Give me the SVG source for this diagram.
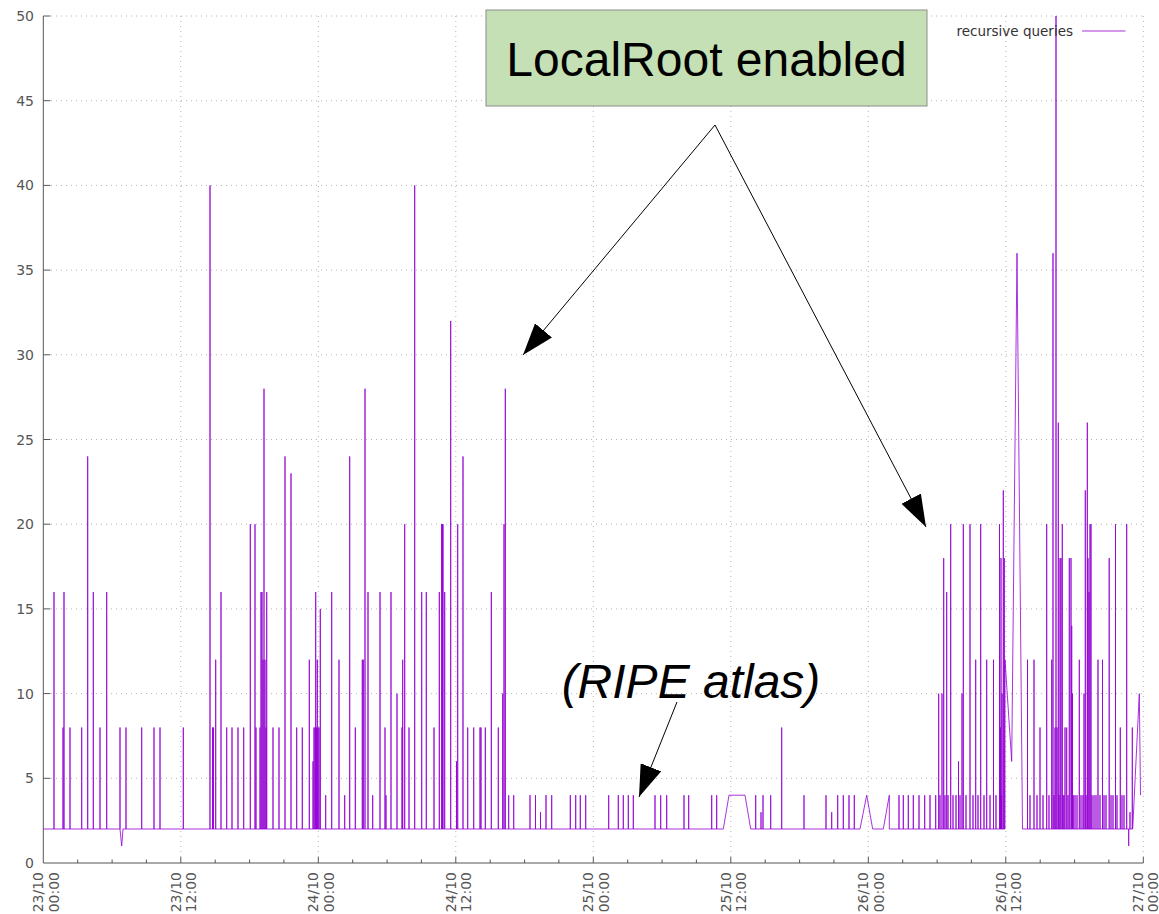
<svg xmlns="http://www.w3.org/2000/svg" width="1159" height="914" viewBox="0 0 1159 914">
  <style>
    .grid { stroke: #b4b4b4; stroke-width: 1; stroke-dasharray: 1 4; fill: none; }
    .axis { stroke: #555555; stroke-width: 1; fill: none; }
    .tick { font-family: "DejaVu Sans", sans-serif; font-size: 14px; fill: #555555; }
    .series { stroke: #9400d3; stroke-opacity: 0.8; stroke-width: 1; fill: none; stroke-linejoin: miter; }
    .legend { font-family: "DejaVu Sans", sans-serif; font-size: 13.5px; fill: #333333; }
    .note { font-family: "Liberation Sans", Arial, sans-serif; font-size: 48px; fill: #000000; }
    .connector { stroke: #000000; stroke-width: 1; fill: none; }
  </style>
  <defs>
    <marker id="head" markerUnits="userSpaceOnUse" markerWidth="32" markerHeight="22" refX="32" refY="11" orient="auto">
      <path d="M0,0 L32,11 L0,22 Z" fill="#000000"/>
    </marker>
  </defs>

  <rect width="1159" height="914" fill="#ffffff"/>

  <!-- dotted grid -->
  <g class="grid">
    <path d="M51,16 H1143.3 M51,100.7 H1143.3 M51,185.4 H1143.3 M51,270.1 H1143.3 M51,354.8 H1143.3 M51,439.5 H1143.3 M51,524.2 H1143.3 M51,608.9 H1143.3 M51,693.6 H1143.3 M51,778.3 H1143.3"/>
    <path d="M180.8,16 V857 M318.3,16 V857 M455.8,16 V857 M593.3,16 V857 M730.8,16 V857 M868.3,16 V857 M1005.8,16 V857 M1143.3,16 V857"/>
  </g>

  <!-- axes and ticks -->
  <g class="axis">
    <path d="M43.3,16 V863 H1143.3"/>
    <path d="M43.3,16 h7 M43.3,100.7 h7 M43.3,185.4 h7 M43.3,270.1 h7 M43.3,354.8 h7 M43.3,439.5 h7 M43.3,524.2 h7 M43.3,608.9 h7 M43.3,693.6 h7 M43.3,778.3 h7"/>
    <path d="M180.8,863 v-6 M318.3,863 v-6 M455.8,863 v-6 M593.3,863 v-6 M730.8,863 v-6 M868.3,863 v-6 M1005.8,863 v-6 M1143.3,863 v-6"/>
    <path d="M77.7,863 v-3.5 M112.1,863 v-3.5 M146.4,863 v-3.5 M215.2,863 v-3.5 M249.6,863 v-3.5 M283.9,863 v-3.5 M352.7,863 v-3.5 M387.1,863 v-3.5 M421.4,863 v-3.5 M490.2,863 v-3.5 M524.6,863 v-3.5 M558.9,863 v-3.5 M627.7,863 v-3.5 M662.1,863 v-3.5 M696.4,863 v-3.5 M765.2,863 v-3.5 M799.6,863 v-3.5 M833.9,863 v-3.5 M902.7,863 v-3.5 M937.1,863 v-3.5 M971.4,863 v-3.5 M1040.2,863 v-3.5 M1074.6,863 v-3.5 M1108.9,863 v-3.5"/>
  </g>

  <!-- y tick labels -->
  <g class="tick" text-anchor="end">
    <text x="34" y="21">50</text>
    <text x="34" y="105.7">45</text>
    <text x="34" y="190.4">40</text>
    <text x="34" y="275.1">35</text>
    <text x="34" y="359.8">30</text>
    <text x="34" y="444.5">25</text>
    <text x="34" y="529.2">20</text>
    <text x="34" y="613.9">15</text>
    <text x="34" y="698.6">10</text>
    <text x="34" y="783.3">5</text>
    <text x="34" y="868">0</text>
  </g>

  <!-- x tick labels (date / time) -->
  <g class="tick" text-anchor="end">
    <g transform="translate(43.3,872) rotate(-90)"><text x="0" y="0">23/10</text><text x="0" y="15.3">00:00</text></g>
    <g transform="translate(180.8,872) rotate(-90)"><text x="0" y="0">23/10</text><text x="0" y="15.3">12:00</text></g>
    <g transform="translate(318.3,872) rotate(-90)"><text x="0" y="0">24/10</text><text x="0" y="15.3">00:00</text></g>
    <g transform="translate(455.8,872) rotate(-90)"><text x="0" y="0">24/10</text><text x="0" y="15.3">12:00</text></g>
    <g transform="translate(593.3,872) rotate(-90)"><text x="0" y="0">25/10</text><text x="0" y="15.3">00:00</text></g>
    <g transform="translate(730.8,872) rotate(-90)"><text x="0" y="0">25/10</text><text x="0" y="15.3">12:00</text></g>
    <g transform="translate(868.3,872) rotate(-90)"><text x="0" y="0">26/10</text><text x="0" y="15.3">00:00</text></g>
    <g transform="translate(1005.8,872) rotate(-90)"><text x="0" y="0">26/10</text><text x="0" y="15.3">12:00</text></g>
    <g transform="translate(1142.8,872) rotate(-90)"><text x="0" y="0">27/10</text><text x="0" y="15.3">00:00</text></g>
  </g>

  <!-- recursive queries series -->
  <path class="series" d="M43.3,829
    H54 V592 V829 H63 V727.5 V829 H64 V592 V829 H70 V727.5 V829 H81.7 V727.5 V829
    H87.7 V456.4 V829 H93.3 V592 V829 H100 V727.5 V829 H106.7 V592 V829 H120 V727.5 V829
    L121.7,846 L123,829
    H126 V727.5 V829 H141.7 V727.5 V829 H154 V727.5 V829 H160 V727.5 V829 H183.3 V727.5 V829
    H210 V185.4 V829 H212.5 V727.5 V829 H213.5 V727.5 V829 H215.7 V659.7 V829 H221 V592 V829
    H226.7 V727.5 V829 H232 V727.5 V829 H238 V727.5 V829 H243.7 V727.5 V829
    H250.3 V524.2 V829 H255 V524.2 V829 H256 V727.5 V829 H260 V727.5 V829 H261 V592 V829
    H262 V592 V829 H263 V659.7 V829 H264 V388.7 V829 H265 V659.7 V829 H266 V727.5 V829
    H266.7 V592 V829 H273 V727.5 V829 H279 V727.5 V829 H285 V456.4 V829 H291 V473.4 V829
    H296.7 V727.5 V829 H302.3 V727.5 V829 H309.3 V659.7 V829 H313 V761.4 V829 H314 V727.5 V829
    H315 V727.5 V829 H315.7 V592 V829 H316.5 V727.5 V829 H317.3 V659.7 V829 H318 V727.5 V829
    H319 V727.5 V829 H320.3 V608.9 V829
    H325.7 V795.2 V829 H331.7 V592 V829 H339 V659.7 V829 H344.7 V795.2 V829 H349.7 V456.4 V829
    H355.3 V727.5 V829 H362.3 V659.7 V829 H363.3 V659.7 V829 H365 V388.7 V829 H368 V592 V829
    H372.7 V795.2 V829 H380 V592 V829 H385 V727.5 V829 H386 V795.2 V829 H391 V592 V829
    H397 V693.6 V829 H402 V727.5 V829 H402.7 V659.7 V829 H404.7 V524.2 V829 H409 V727.5 V829
    H414.7 V185.4 V829 H421.7 V592 V829 H426.3 V592 V829 H434 V727.5 V829 H439.3 V592 V829
    H441.7 V524.2 V829 H442.3 V524.2 V829 H443 V524.2 V829 H444.7 V592 V829 H450.7 V320.9 V829
    H456.5 V761.4 V829 H457.7 V524.2 V829 H463 V456.4 V829 H467.7 V727.5 V829 H473.7 V727.5 V829
    H480 V727.5 V829 H481 V727.5 V829 H485.3 V727.5 V829 H491.3 V592 V829 H498.3 V727.5 V829
    H502.7 V693.6 V829 H504 V524.2 V829 H505.3 V388.7 V829 H508.7 V795.2 V829 H513.7 V795.2 V829
    H530 V795.2 V829 H535.5 V795.2 V829 H540.5 V812.2 V829 H546 V795.2 V829 H551.7 V795.2 V829
    H570.3 V795.2 V829 H575.7 V795.2 V829 H580.3 V795.2 V829 H585.7 V795.2 V829
    H608.7 V795.2 V829 H618.3 V795.2 V829 H623.3 V795.2 V829 H628.3 V795.2 V829 H633.3 V795.2 V829
    H655 V795.2 V829 H660.7 V795.2 V829 H666.7 V795.2 V829 H684 V795.2 V829 H688.7 V795.2 V829
    H711.7 V795.2 V829 H716.7 V795.2 V829
    H723.3 L729,795.2 H745 L750.7,829
    H755.7 V795.2 V829 H761 V812.2 V829 H763 V795.2 V829 H770.7 V795.2 V829 H781.7 V727.5 V829
    H804 V795.2 V829 H826 V795.2 V829 H831.7 V812.2 V829 H837.7 V795.2 V829 H843.3 V795.2 V829
    H849 V795.2 V829 H854.3 V795.2 V829
    H860 L866.7,795.2 L872.7,829 H883.3 L889.3,795.2 V829
    H899 V795.2 V829 H903.3 V795.2 V829 H908.3 V795.2 V829 H913.3 V795.2 V829 H919 V795.2 V829
    H924.7 V795.2 V829 H930 V795.2 V829 H935.7 V795.2 V829
    H938.7 V693.6 V829 H940 V795.2 V829 H942 V693.6 V829 H943.7 V558.1 V829 H945 V795.2 V829
    H946.7 V592 V829 H948 V795.2 V829 H950.7 V524.2 V829 H953 V795.2 V829 H956 V795.2 V829
    H958.5 V761.4 V829 H960 V795.2 V829 H962 V693.6 V829 H963.3 V524.2 V829 H966 V795.2 V829
    H970 V524.2 V829 H973 V795.2 V829 H975.7 V659.7 V829 H978 V795.2 V829 H980.7 V524.2 V829
    H984 V795.2 V829 H986.7 V659.7 V829 H990 V795.2 V829 H993.5 V659.7 V829 H996 V795.2 V829
    H999.5 V524.2 V829 H1000.5 V727.5 V829 H1001 V558.1 V829 H1001.5 V795.2 V829 H1002 V693.6 V829
    H1003.3 V490.3 V829 H1004.3 V558.1 V829
    H1005 V659.7 L1011.7,761.4 L1017,253.2 L1022.5,829
    H1027.5 V659.7 V829 H1030 V795.2 V829 H1034 V659.7 V829 H1037 V795.2 V829 H1040 V727.5 V829
    H1043 V795.2 V829 H1046.7 V524.2 V829 H1049 V795.2 V829 H1051.7 V659.7 V829 H1053 V253.2 V829
    H1054 V795.2 V829 H1055 V727.5 V829 H1056 V16 V829 H1057 V727.5 V829 H1058.3 V422.6 V829
    H1059 V795.2 V829 H1060 V558.1 V829 H1061 V558.1 V829 H1062.3 V524.2 V829 H1063 V795.2 V829
    H1064 V795.2 V829 H1065 V727.5 V829 H1066.7 V727.5 V829 H1068 V795.2 V829 H1069.3 V558.1 V829
    H1071 V558.1 V829 H1071.7 V625.8 V829 H1072.5 V693.6 V829 H1073.3 V795.2 V829 H1075 V795.2 V829
    H1077 V795.2 V829 H1079.3 V659.7 V829 H1081 V795.2 V829 H1083 V795.2 V829 H1084 V693.6 V829
    H1085.3 V490.3 V829 H1086 V795.2 V829 H1087.3 V422.6 V829 H1088 V558.1 V829 H1089 V592 V829
    H1090 V524.2 V829 H1091 V524.2 V829 H1092 V795.2 V829 H1094 V795.2 V829 H1096 V795.2 V829
    H1098 V659.7 V829 H1100 V795.2 V829 H1102.5 V659.7 V829 H1104 V795.2 V829 H1106 V795.2 V829
    H1109.2 V558.1 V829 H1111 V795.2 V829 H1113 V795.2 V829 H1115.5 V524.2 V829 H1117 V795.2 V829
    H1120.3 V727.5 V829 H1122 V795.2 V829 H1124 V795.2 V829 H1126.7 V524.2 V829 H1128.7 V846 V829
    H1130 V812.2 V829 H1132.3 V727.5 V829
    H1132.7 L1139.3,693.6 L1140.5,795.2"/>

  <!-- key -->
  <g id="key">
    <text class="legend" x="1073" y="35.5" text-anchor="end">recursive queries</text>
    <path class="series" d="M1082,31 H1125.5"/>
  </g>

  <!-- callout box -->
  <g id="localroot-box">
    <rect x="486" y="10" width="441" height="96" fill="#c5e0b4" stroke="#8c8c8c" stroke-width="1"/>
    <text class="note" x="706.5" y="76" text-anchor="middle">LocalRoot enabled</text>
  </g>

  <!-- measurement label -->
  <g id="ripe-label">
    <text class="note" x="691" y="698" text-anchor="middle" font-style="italic">(RIPE atlas)</text>
  </g>

  <!-- pointer arrows -->
  <g id="connectors">
    <path class="connector" d="M715,125 L523,355" marker-end="url(#head)"/>
    <path class="connector" d="M715,125 L926,527" marker-end="url(#head)"/>
    <path class="connector" d="M677,702 L639,797" marker-end="url(#head)"/>
  </g>
</svg>
